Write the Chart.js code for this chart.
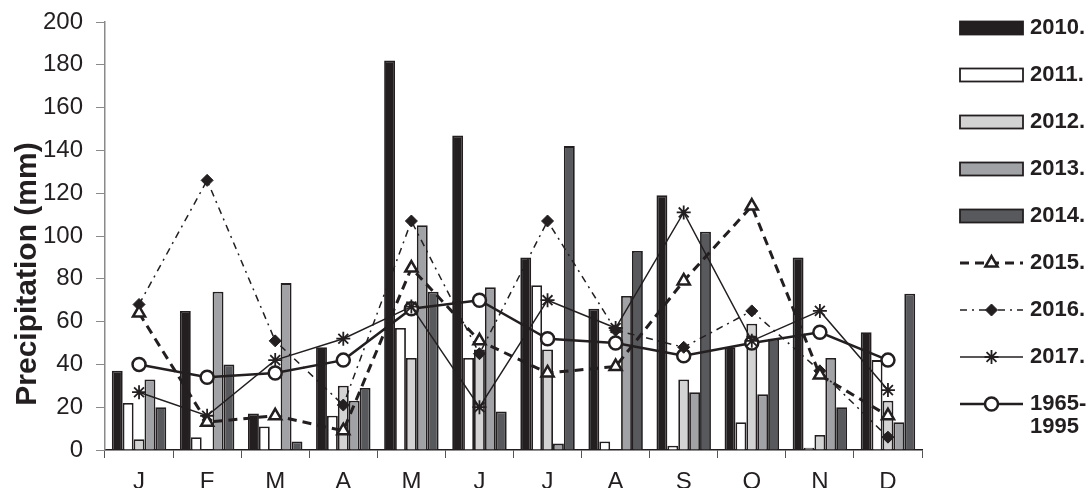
<!DOCTYPE html>
<html>
<head>
<meta charset="utf-8">
<script src="https://cdn.jsdelivr.net/npm/chart.js@4.4.1/dist/chart.umd.min.js"></script>
<style>
  html, body { margin: 0; padding: 0; background: #fff; }
</style>
</head>
<body>
<canvas id="precip" width="1090" height="488"></canvas>
<script>
// monthly precipitation (mm)
var months = ['J', 'F', 'M', 'A', 'M', 'J', 'J', 'A', 'S', 'O', 'N', 'D'];
var p2010 = [37, 65, 17, 48, 182, 147, 90, 66, 119, 48, 90, 55];
var p2011 = [22, 6, 11, 16, 57, 43, 77, 4, 2, 13, 1, 42];
var p2012 = [5, 0, 0, 30, 43, 47, 47, 0, 33, 59, 7, 23];
var p2013 = [33, 74, 78, 23, 105, 76, 3, 72, 27, 26, 43, 13];
var p2014 = [20, 40, 4, 29, 74, 18, 142, 93, 102, 52, 20, 73];
var p2015 = [64, 13, 16, 9, 85, 51, 36, 39, 79, 114, 35, 16];
var p2016 = [68, 126, 51, 21, 107, 45, 107, 56, 48, 65, 37, 6];
var p2017 = [27, 16, 42, 52, 67, 20, 70, 57, 111, 51, 65, 28];
var pMean = [40, 34, 36, 42, 66, 70, 52, 50, 44, 50, 55, 42];
var legendLabels = ['2010.', '2011.', '2012.', '2013.', '2014.', '2015.', '2016.', '2017.', ['1965-', '1995']];
var yMin = 0, yMax = 200, yStep = 20;

var ink = '#231f20';
var font = '"Liberation Sans", Arial, sans-serif';

function bar(label, data, fill) {
  return {
    type: 'bar', label: label, data: data, order: 2,
    backgroundColor: fill, borderColor: ink, borderWidth: 1.8,
    categoryPercentage: 0.8, barPercentage: 1.0
  };
}
function line(label, data, o) {
  return Object.assign({
    type: 'line', label: label, data: data, order: 1,
    borderColor: ink, fill: false, tension: 0,
    pointBorderColor: ink, pointHoverRadius: 0
  }, o);
}

// y title + legend drawn on the canvas so they sit where the figure has them
var sidePlugin = {
  id: 'side',
  afterDraw: function(chart) {
    var ctx = chart.ctx;
    ctx.save();
    ctx.fillStyle = ink;
    ctx.font = 'bold 30px ' + font;
    ctx.textAlign = 'center';
    ctx.textBaseline = 'middle';
    ctx.translate(28, 274);
    ctx.rotate(-Math.PI / 2);
    ctx.fillText('Precipitation (mm)', 0, 0);
    ctx.restore();

    var x0 = 960, x1 = 1023, tx = 1030;
    chart.data.datasets.forEach(function(ds, i) {
      var yc = 28 + i * 47;
      ctx.save();
      if (ds.type === 'bar') {
        ctx.fillStyle = ds.backgroundColor;
        ctx.fillRect(x0, yc - 6.5, x1 - x0, 13);
        ctx.strokeStyle = ink;
        ctx.lineWidth = 1.8;
        ctx.strokeRect(x0, yc - 6.5, x1 - x0, 13);
      } else {
        ctx.strokeStyle = ink;
        ctx.lineWidth = ds.borderWidth;
        ctx.setLineDash(ds.borderDash || []);
        ctx.beginPath();
        ctx.moveTo(x0, yc);
        ctx.lineTo(x1, yc);
        ctx.stroke();
        ctx.setLineDash([]);
        ctx.fillStyle = ds.pointBackgroundColor;
        ctx.strokeStyle = ink;
        ctx.lineWidth = ds.pointBorderWidth;
        Chart.helpers.drawPoint(ctx, {
          pointStyle: ds.pointStyle, radius: ds.pointRadius, rotation: 0,
          borderWidth: ds.pointBorderWidth
        }, (x0 + x1) / 2, yc);
      }
      ctx.restore();
      ctx.save();
      ctx.fillStyle = ink;
      ctx.font = 'bold 22px ' + font;
      ctx.textAlign = 'left';
      ctx.textBaseline = 'middle';
      var lab = legendLabels[i];
      if (Array.isArray(lab)) {
        lab.forEach(function(t, k) { ctx.fillText(t, tx, yc + k * 23); });
      } else {
        ctx.fillText(lab, tx, yc);
      }
      ctx.restore();
    });
  }
};

new Chart(document.getElementById('precip'), {
  type: 'bar',
  data: {
    labels: months,
    datasets: [
      bar('2010.', p2010, ink),
      bar('2011.', p2011, '#ffffff'),
      bar('2012.', p2012, '#d3d3d4'),
      bar('2013.', p2013, '#a1a2a5'),
      bar('2014.', p2014, '#58595c'),
      line('2015.', p2015, {
        borderWidth: 3, borderDash: [9, 6],
        pointStyle: 'triangle', pointRadius: 7, pointBorderWidth: 2.5, pointBackgroundColor: '#ffffff'
      }),
      line('2016.', p2016, {
        borderWidth: 1.5, borderDash: [7, 5, 2, 5],
        pointStyle: 'rectRot', pointRadius: 6, pointBorderWidth: 1, pointBackgroundColor: ink
      }),
      line('2017.', p2017, {
        borderWidth: 1.5,
        pointStyle: 'star', pointRadius: 7, pointBorderWidth: 1.8, pointBackgroundColor: ink
      }),
      line('1965-1995', pMean, {
        borderWidth: 2.5,
        pointStyle: 'circle', pointRadius: 6.5, pointBorderWidth: 2.5, pointBackgroundColor: '#ffffff'
      })
    ]
  },
  options: {
    responsive: false,
    animation: false,
    devicePixelRatio: 1,
    layout: { padding: { top: 22, right: 168, left: 0, bottom: 0 } },
    plugins: {
      legend: { display: false },
      tooltip: { enabled: false }
    },
    scales: {
      x: {
        offset: true,
        border: { color: ink, width: 1.5 },
        grid: { offset: true, drawOnChartArea: false, tickLength: 8, color: '#555' },
        ticks: { color: ink, font: { family: font, size: 24 }, padding: 10 },
        afterFit: function(s) { s.height = 38; s.paddingLeft = 0; s.paddingRight = 0; }
      },
      y: {
        min: yMin, max: yMax,
        border: { color: '#8a8a8a', width: 1.5 },
        grid: { drawOnChartArea: false, tickLength: 9, color: '#8a8a8a' },
        ticks: { stepSize: yStep, color: ink, font: { family: font, size: 24 }, padding: 13 },
        afterFit: function(s) { s.width = 105; s.paddingTop = 0; s.paddingBottom = 0; }
      }
    }
  },
  plugins: [sidePlugin]
});
</script>
</body>
</html>
